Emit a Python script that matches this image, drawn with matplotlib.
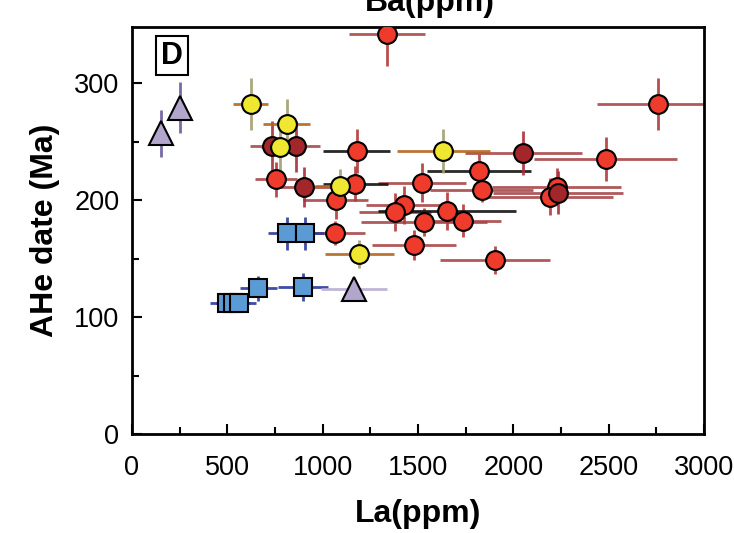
"""
AHe date vs La (ppm) scatter with error bars, panel D.
"""

import matplotlib.pyplot as plt
from matplotlib.ticker import MultipleLocator

# red circles, error bars in brown-red
red_x = [1339, 2760, 2486, 1521, 1834, 2227, 2192, 1068, 1426, 1379, 1531, 1737, 1063, 1480, 1904, 755]
red_y = [342, 282, 235, 215, 208.5, 211.5, 203, 200.5, 195.7, 190, 181.5, 182.3, 172, 161.5, 149, 218]
red_xerr = [200, 320, 375, 230, 270, 340, 330, 170, 200, 190, 330, 200, 160, 220, 290, 110]
red_yerr = [27, 22, 19, 17, 10, 16, 16, 17, 16, 16, 12, 14, 10, 13, 12, 15]

# red circles whose La error bars are black
redb_x = [1178, 1821, 1171, 1652]
redb_y = [242, 224.5, 214, 190.6]
redb_xerr = [175, 272, 170, 360]
redb_yerr = [19, 15, 15, 16]

# dark red circles
dred_x = [732, 858, 902, 2052, 2236]
dred_y = [246, 246, 211, 240.5, 206.5]
dred_xerr = [113, 128, 142, 307, 340]
dred_yerr = [22, 22, 17, 19, 18]

# yellow circles
yel_x = [622, 811, 776, 1091, 1633, 1192]
yel_y = [282, 265.5, 245.5, 212, 242, 154]
yel_xerr = [92, 123, 100, 130, 245, 180]
yel_yerr = [22, 21, 20, 15, 19, 12]

# blue squares
sq_x = [811, 907, 662, 898, 500, 530, 560]
sq_y = [171.5, 171.5, 124.5, 126, 112, 112, 112]
sq_xerr = [100, 100, 97, 130, 90, 90, 90]
sq_yerr = [14, 14, 11, 12, 7, 7, 7]

# lavender triangles
tri_x = [152, 252, 1164]
tri_y = [257, 279, 124]
tri_xerr = [0, 0, 175]
tri_yerr = [20, 22, 0]

plt.rcParams['font.family'] = ['Liberation Sans', 'DejaVu Sans']


def draw(ax, x, y, xerr, yerr, hcol, vcol, marker, face, ms):
    ax.errorbar(x, y, xerr=xerr, fmt='none', ecolor=hcol, elinewidth=2,
                capsize=0, alpha=0.9, zorder=2)
    ax.errorbar(x, y, yerr=yerr, fmt='none', ecolor=vcol, elinewidth=2,
                capsize=0, alpha=0.9, zorder=2)
    ax.plot(x, y, linestyle='none', marker=marker, markersize=ms,
            markerfacecolor=face, markeredgecolor='black',
            markeredgewidth=1.5, zorder=3)


fig = plt.figure(figsize=(7.34, 5.33), dpi=100)
ax = fig.add_axes([0.1798, 0.1857, 0.7793, 0.7636])

draw(ax, red_x, red_y, red_xerr, red_yerr, '#a8474a', '#b23a3a', 'o', '#ee3b2b', 13.5)
draw(ax, redb_x, redb_y, redb_xerr, redb_yerr, '#111111', '#b23a3a', 'o', '#ee3b2b', 13.5)
draw(ax, dred_x, dred_y, dred_xerr, dred_yerr, '#a8474a', '#a8303a', 'o', '#a3262a', 13.5)
draw(ax, yel_x, yel_y, yel_xerr, yel_yerr, '#b5651d', '#a39e70', 'o', '#f0e830', 13.5)
draw(ax, sq_x, sq_y, sq_xerr, sq_yerr, '#2b3a9a', '#2b3a9a', 's', '#5b9bd5', 12.5)
draw(ax, tri_x, tri_y, tri_xerr, tri_yerr, '#b8aed0', '#6a5a9a', '^', '#b3a6cc', 17)

ax.set_xlim(0, 3000)
ax.set_ylim(0, 348)
ax.xaxis.set_major_locator(MultipleLocator(500))
ax.xaxis.set_minor_locator(MultipleLocator(250))
ax.yaxis.set_major_locator(MultipleLocator(100))
ax.yaxis.set_minor_locator(MultipleLocator(50))
ax.tick_params(which='both', direction='in', width=1.5, labelsize=19.5,
               top=False, right=False)
ax.tick_params(which='major', length=7)
ax.tick_params(which='minor', length=5)
ax.tick_params(axis='x', which='major', pad=15)
ax.tick_params(axis='y', which='major', pad=9)
for s in ax.spines.values():
    s.set_linewidth(2)

ax.set_xlabel('La(ppm)', fontsize=23, fontweight='bold', labelpad=13)
ax.set_ylabel('AHe date (Ma)', fontsize=23, fontweight='bold', labelpad=10)

# clipped title of the panel above
fig.text(430 / 734, 1 - 11 / 533, 'Ba(ppm)', fontsize=23, fontweight='bold',
         ha='center', va='baseline')

ax.text(0.07, 0.93, 'D', transform=ax.transAxes, fontsize=22,
        fontweight='bold', ha='center', va='center',
        bbox=dict(boxstyle='square,pad=0.15', facecolor='white',
                  edgecolor='black', linewidth=1.5))

fig.savefig('out.png', dpi=100)
